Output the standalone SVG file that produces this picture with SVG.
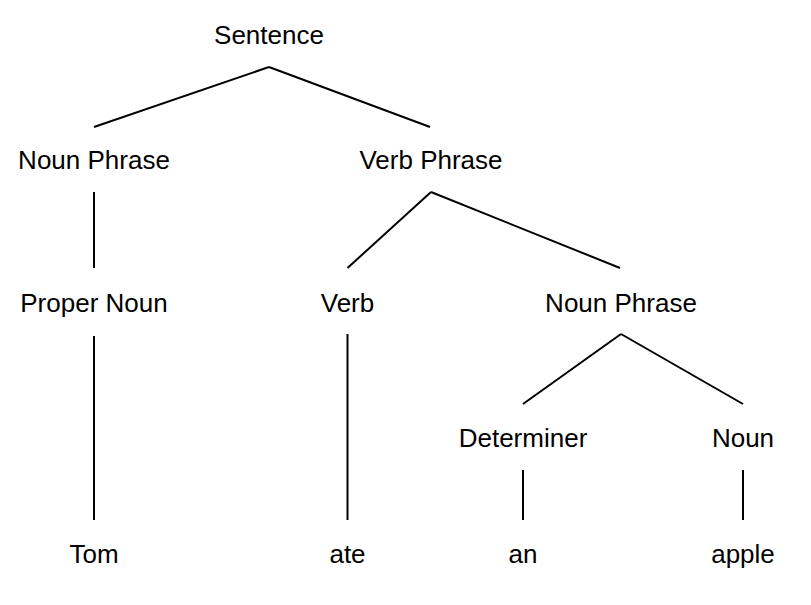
<svg xmlns="http://www.w3.org/2000/svg" width="811" height="605" viewBox="0 0 811 605">
<style>
text{font-family:"Liberation Sans",Arial,sans-serif;font-size:26px;fill:#000;text-anchor:middle}
.c line{stroke:#000;stroke-width:2}
</style>
<rect width="811" height="605" fill="#fff"/>
<g class="c" id="connectors">
<line x1="269" y1="67" x2="94" y2="127"/>
<line x1="269" y1="67" x2="430" y2="127"/>
<line x1="94" y1="192" x2="94" y2="268"/>
<line x1="431" y1="192" x2="347.5" y2="268"/>
<line x1="431" y1="192" x2="620" y2="268"/>
<line x1="94" y1="336" x2="94" y2="520"/>
<line x1="347.5" y1="334" x2="347.5" y2="520"/>
<line x1="621" y1="334" x2="523" y2="404"/>
<line x1="621" y1="334" x2="743" y2="404"/>
<line x1="523" y1="470" x2="523" y2="520"/>
<line x1="743" y1="470" x2="743" y2="520"/>
</g>
<g id="sentence"><text x="269" y="44">Sentence</text></g>
<g id="np1"><text x="94" y="169">Noun Phrase</text></g>
<g id="vp"><text x="431" y="169">Verb Phrase</text></g>
<g id="propernoun"><text x="94" y="312">Proper Noun</text></g>
<g id="verb"><text x="347.5" y="312">Verb</text></g>
<g id="np2"><text x="621" y="312">Noun Phrase</text></g>
<g id="determiner"><text x="523" y="447">Determiner</text></g>
<g id="noun"><text x="743" y="447">Noun</text></g>
<g id="tom"><text x="94" y="563">Tom</text></g>
<g id="ate"><text x="347.5" y="563">ate</text></g>
<g id="an"><text x="523" y="563">an</text></g>
<g id="apple"><text x="743" y="563">apple</text></g>
</svg>
